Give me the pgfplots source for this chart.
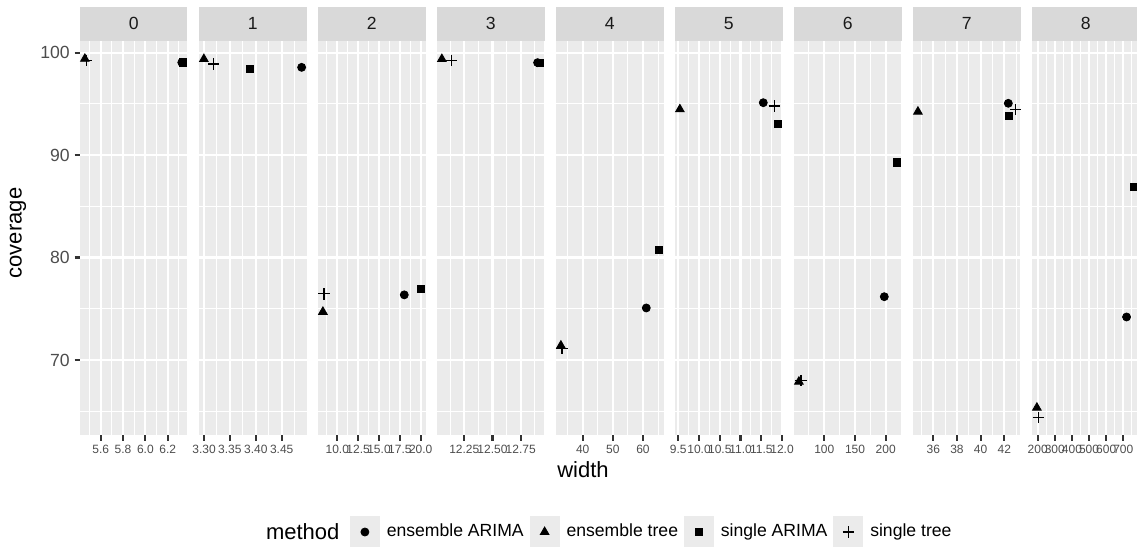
\documentclass[border=0pt]{standalone}
\usepackage{fontspec}
\setmainfont{Liberation Sans}
\usepackage{pgfplots}
\pgfplotsset{compat=1.18}
\definecolor{gg92}{HTML}{EBEBEB}
\definecolor{gg85}{HTML}{D9D9D9}
\definecolor{gg30}{HTML}{4D4D4D}
\definecolor{gg20}{HTML}{333333}
\definecolor{gg10}{HTML}{1A1A1A}
\newcommand{\fsmall}{\fontsize{8.8pt}{10.5pt}\selectfont}
\newcommand{\ftiny}{\fontsize{6pt}{7pt}\selectfont}
\newcommand{\fbig}{\fontsize{11pt}{13pt}\selectfont}
\tikzset{stripnode/.style={fill=gg85, anchor=south, minimum width=53.75pt, minimum height=17.15pt, inner sep=0pt, outer sep=0pt, font=\fsmall, text=gg10}}
\pgfplotsset{
  ggkey/.style={legend image code/.code={%
      \fill[gg92] (0pt,-8pt) rectangle (14.5pt,8pt);
      \draw[##1] plot coordinates {(7.25pt,0pt)};}},
  mEA/.style={only marks, mark=*, mark size=2pt, black, ggkey},
  mET/.style={only marks, mark=triangle*, mark size=2.5pt, black, ggkey},
  mSA/.style={only marks, mark=square*, mark size=1.8pt, black, ggkey},
  mST/.style={only marks, mark=+, mark size=2.8pt, black, mark options={line width=0.55pt}, ggkey},
  strip/.style={extra description/.code={\node[stripnode] at (0.5,1) {#1};}},
  ggpanel/.style={
    scale only axis, width=53.75pt, height=197pt,
    anchor=south west,
    ymin=62.678, ymax=101.142,
    axis background/.style={fill=gg92},
    axis line style={draw=none},
    xmajorgrids, ymajorgrids, xminorgrids, yminorgrids,
    major grid style={white, line width=1.07pt},
    minor grid style={white, line width=0.53pt},
    ytick={70,80,90,100}, minor ytick={65,75,85,95},
    yticklabels={70,80,90,100},
    tick align=outside, tick pos=left,
    major tick length=2.75pt, minor tick length=0pt,
    tick style={draw=gg20, line width=1.07pt},
    xtick style={draw=gg20, line width=1.07pt},
    xticklabel style={font=\ftiny, text=gg30, inner sep=0pt, yshift=-2.2pt},
    yticklabel style={font=\fsmall, text=gg30, inner sep=0pt, xshift=-2.2pt},
    clip=false,
  },
  ggrest/.style={yticklabels={}, ytick style={draw=none}},
}
\begin{document}
\begin{tikzpicture}
\path[use as bounding box] (0,0) rectangle (568.5pt,273.5pt);
% panel 0
\begin{axis}[ggpanel, at={(40pt,56pt)}, strip={0}, xmin=5.4146, xmax=6.377,
  xtick={5.6,5.8,6.0,6.2}, xticklabels={5.6,5.8,6.0,6.2}, minor xtick={5.5,5.7,5.9,6.1,6.3}]
\addplot[mEA] coordinates {(6.326,99.05)};
\addplot[mET] coordinates {(5.458,99.4)};
\addplot[mSA] coordinates {(6.333,99.05)};
\addplot[mST] coordinates {(5.474,99.26)};
\end{axis}
% panel 1
\begin{axis}[ggpanel, ggrest, at={(99.5pt,56pt)}, strip={1}, xmin=3.2903, xmax=3.4979,
  xtick={3.30,3.35,3.40,3.45}, xticklabels={3.30,3.35,3.40,3.45}, minor xtick={3.325,3.375,3.425,3.475}]
\addplot[mEA] coordinates {(3.4885,98.57)};
\addplot[mET] coordinates {(3.2997,99.38)};
\addplot[mSA] coordinates {(3.389,98.38)};
\addplot[mST] coordinates {(3.319,98.9)};
\end{axis}
% panel 2
\begin{axis}[ggpanel, ggrest, at={(159pt,56pt)}, strip={2}, xmin=7.686, xmax=20.576,
  xtick={10,12.5,15,17.5,20}, xticklabels={10.0,12.5,15.0,17.5,20.0}, minor xtick={8.75,11.25,13.75,16.25,18.75}]
\addplot[mEA] coordinates {(18.03,76.36)};
\addplot[mET] coordinates {(8.272,74.7)};
\addplot[mSA] coordinates {(19.99,76.95)};
\addplot[mST] coordinates {(8.41,76.45)};
\end{axis}
% panel 3
\begin{axis}[ggpanel, ggrest, at={(218.5pt,56pt)}, strip={3}, xmin=12.008, xmax=12.961,
  xtick={12.25,12.5,12.75}, xticklabels={12.25,12.50,12.75}, minor xtick={12.125,12.375,12.625,12.875}]
\addplot[mEA] coordinates {(12.90,99.03)};
\addplot[mET] coordinates {(12.051,99.38)};
\addplot[mSA] coordinates {(12.918,99.03)};
\addplot[mST] coordinates {(12.138,99.26)};
\end{axis}
% panel 4 (carries the legend)
\begin{axis}[ggpanel, ggrest, at={(278pt,56pt)}, strip={4}, xmin=31.14, xmax=66.80,
  xtick={40,50,60}, xticklabels={40,50,60}, minor xtick={35,45,55,65},
  legend style={at={(-1.9163,-0.2462)}, anchor=west, draw=none, fill=none, inner sep=0pt, outer sep=0pt,
    font=\fsmall, nodes={inner sep=0pt},
    /tikz/every odd column/.append style={column sep=3.5pt},
    /tikz/every even column/.append style={column sep=3pt}},
  legend columns=-1, legend cell align=left]
\addplot[mEA] coordinates {(61.09,75.08)};
\addlegendentry{ensemble ARIMA}
\addplot[mET] coordinates {(32.76,71.4)};
\addlegendentry{ensemble tree}
\addplot[mSA] coordinates {(65.18,80.71)};
\addlegendentry{single ARIMA}
\addplot[mST] coordinates {(33.13,71.14)};
\addlegendentry{single tree}
\end{axis}
% panel 5
\begin{axis}[ggpanel, ggrest, at={(337.5pt,56pt)}, strip={5}, xmin=9.4205, xmax=12.011,
  xtick={9.5,10,10.5,11,11.5,12}, xticklabels={9.5,10.0,10.5,11.0,11.5,12.0}, minor xtick={9.75,10.25,10.75,11.25,11.75}]
\addplot[mEA] coordinates {(11.548,95.12)};
\addplot[mET] coordinates {(9.538,94.47)};
\addplot[mSA] coordinates {(11.893,93.04)};
\addplot[mST] coordinates {(11.81,94.8)};
\end{axis}
% panel 6
\begin{axis}[ggpanel, ggrest, at={(397pt,56pt)}, strip={6}, xmin=50.65, xmax=225.7,
  xtick={100,150,200}, xticklabels={100,150,200}, minor xtick={75,125,175,225}]
\addplot[mEA] coordinates {(197.7,76.18)};
\addplot[mET] coordinates {(58.6,67.88)};
\addplot[mSA] coordinates {(217.8,89.3)};
\addplot[mST] coordinates {(62,68.0)};
\end{axis}
% panel 7
\begin{axis}[ggpanel, ggrest, at={(456.5pt,56pt)}, strip={7}, xmin=34.284, xmax=43.369,
  xtick={36,38,40,42}, xticklabels={36,38,40,42}, minor xtick={35,37,39,41,43}]
\addplot[mEA] coordinates {(42.34,95.06)};
\addplot[mET] coordinates {(34.70,94.24)};
\addplot[mSA] coordinates {(42.42,93.82)};
\addplot[mST] coordinates {(42.96,94.47)};
\end{axis}
% panel 8
\begin{axis}[ggpanel, ggrest, at={(516pt,56pt)}, strip={8}, xmin=166.7, xmax=794.6,
  xtick={200,300,400,500,600,700}, xticklabels={200,300,400,500,600,700}, minor xtick={250,350,450,550,650,750}]
\addplot[mEA] coordinates {(719,74.2)};
\addplot[mET] coordinates {(195.2,65.34)};
\addplot[mSA] coordinates {(765,86.92)};
\addplot[mST] coordinates {(203,64.4)};
\end{axis}
\node[font=\fbig] at (291.5pt,38.5pt) {width};
\node[font=\fbig, rotate=90] at (9pt,157pt) {coverage};
\node[font=\fbig, anchor=west] at (129.5pt,7.5pt) {method};
\end{tikzpicture}
\end{document}
